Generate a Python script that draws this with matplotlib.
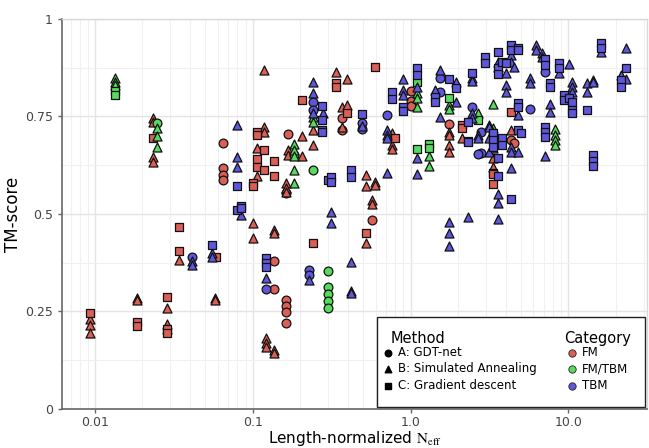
import matplotlib
matplotlib.use("Agg")
import matplotlib.pyplot as plt
from matplotlib.patches import Rectangle
from matplotlib.ticker import FixedLocator, LogLocator, NullFormatter, MultipleLocator
import numpy as np

plt.rcParams['font.family'] = ['DejaVu Sans']
plt.rcParams['mathtext.fontset'] = 'stix'

categories = ["FM", "FM/TBM", "TBM"]
methods = ["A: GDT-net", "B: Simulated Annealing", "C: Gradient descent"]
cat_colors = ["#db5f57", "#57db5f", "#5f57db"]
method_markers = ["o", "^", "s"]

# ---------------- FM ----------------
fm_a_x = [0.0646, 0.0646, 0.0646, 0.0646, 0.136, 0.136, 0.162, 0.162, 0.162, 0.162, 0.168, 0.162,
          1.0, 1.0, 1.0, 0.366, 0.366, 1.74, 4.35, 4.55, 0.566]
fm_a_y = [0.682, 0.618, 0.600, 0.587, 0.379, 0.308, 0.279, 0.264, 0.249, 0.221, 0.705, 0.554,
          0.815, 0.790, 0.777, 0.746, 0.715, 0.731, 0.690, 0.682, 0.485]

fm_b_x = [0.0093, 0.0093, 0.0093, 0.0184, 0.0184, 0.0233, 0.0233, 0.0233, 0.0233, 0.0286, 0.0286, 0.0286,
          0.034, 0.0575, 0.0575, 0.100, 0.100, 0.136, 0.136, 0.136, 0.136, 0.121, 0.121, 0.121,
          0.117, 0.117, 0.117, 0.106, 0.106, 0.162, 0.162, 0.162, 0.168, 0.168, 0.206, 0.206,
          0.240, 0.240, 0.335, 0.366, 0.366, 0.396, 0.396, 0.519, 0.519, 0.519, 0.592, 0.592,
          0.566, 0.566, 0.764, 0.764, 0.764, 1.74, 1.74, 1.74, 1.74, 2.13, 3.35, 3.35, 3.35, 4.35]
fm_b_y = [0.230, 0.215, 0.195, 0.285, 0.279, 0.745, 0.735, 0.646, 0.633, 0.259, 0.218, 0.205,
          0.382, 0.285, 0.279, 0.477, 0.438, 0.459, 0.451, 0.151, 0.144, 0.182, 0.169, 0.159,
          0.869, 0.723, 0.710, 0.669, 0.597, 0.579, 0.567, 0.556, 0.664, 0.651, 0.700, 0.649,
          0.715, 0.677, 0.864, 0.774, 0.723, 0.846, 0.779, 0.600, 0.572, 0.426, 0.582, 0.574,
          0.536, 0.526, 0.708, 0.677, 0.667, 0.710, 0.703, 0.677, 0.659, 0.695, 0.669, 0.644, 0.620, 0.715]

fm_c_x = [0.0093, 0.0184, 0.0184, 0.0286, 0.0286, 0.0286, 0.034, 0.034, 0.0233, 0.0583,
          0.106, 0.106, 0.106, 0.106, 0.100, 0.100, 0.117, 0.117, 0.136, 0.136, 0.206, 0.240,
          0.335, 0.335, 0.396, 0.592, 0.519, 0.792, 2.13, 2.13, 3.35, 3.35, 3.35, 4.35]
fm_c_y = [0.245, 0.223, 0.213, 0.287, 0.205, 0.195, 0.467, 0.405, 0.695, 0.390,
          0.710, 0.703, 0.641, 0.620, 0.579, 0.572, 0.664, 0.613, 0.636, 0.597, 0.792, 0.426,
          0.836, 0.826, 0.759, 0.877, 0.451, 0.695, 0.728, 0.720, 0.605, 0.603, 0.577, 0.762]

# ---------------- FM/TBM ----------------
fmtbm_a_x = [0.0247, 0.240, 0.298, 0.298, 0.298, 0.298, 0.298, 0.182]
fmtbm_a_y = [0.733, 0.613, 0.354, 0.313, 0.295, 0.277, 0.259, 0.651]

fmtbm_b_x = [0.0134, 0.0134, 0.0134, 0.0247, 0.0247, 0.0247, 0.182, 0.182, 0.182, 0.182, 0.182,
             0.240, 0.240, 1.1, 1.1, 1.1, 1.74, 1.74, 1.3, 1.3, 3.35, 3.35, 2.69,
             8.27, 8.27, 8.27, 8.27]
fmtbm_b_y = [0.849, 0.838, 0.830, 0.720, 0.700, 0.672, 0.679, 0.664, 0.649, 0.613, 0.579,
             0.749, 0.736, 0.810, 0.797, 0.774, 0.779, 0.769, 0.649, 0.623, 0.782, 0.720, 0.759,
             0.718, 0.703, 0.690, 0.677]

fmtbm_c_x = [0.0134, 0.0134, 1.1, 1.1, 1.74, 1.3, 1.3, 2.69]
fmtbm_c_y = [0.815, 0.805, 0.838, 0.667, 0.797, 0.679, 0.669, 0.741]

# ---------------- TBM ----------------
tbm_a_x = [0.0411, 0.121, 0.226, 0.226, 0.240, 0.240, 0.49, 0.49, 0.705, 1.53, 1.53,
           2.45, 2.81, 2.81, 5.7, 7.1, 2.69]
tbm_a_y = [0.390, 0.308, 0.356, 0.344, 0.787, 0.767, 0.733, 0.718, 0.754, 0.849, 0.813,
           0.774, 0.710, 0.656, 0.769, 0.864, 0.654]

tbm_b_x = [0.0411, 0.0411, 0.055, 0.055, 0.0792, 0.0792, 0.0792, 0.0839, 0.121, 0.226,
           0.240, 0.240, 0.240, 0.277, 0.312, 0.312, 0.417, 0.417, 0.417, 0.49,
           0.705, 0.705, 0.705, 0.705, 0.890, 0.890, 0.890, 1.1, 1.1, 1.1, 1.42, 1.53, 1.53,
           1.74, 1.74, 1.74, 1.95, 1.95, 2.3, 2.45, 2.45, 2.45, 2.45, 2.69, 2.69,
           3.12, 3.12, 3.12, 3.12, 3.6, 3.6, 3.6, 3.6, 3.6, 4.05, 4.05, 4.05,
           4.35, 4.35, 4.35, 4.35, 4.35, 4.55, 4.78, 4.78, 5.7, 5.7, 6.27, 6.27, 6.8, 6.8,
           7.1, 7.7, 7.7, 8.77, 10.15, 10.5, 10.5, 10.5, 13.2, 13.2, 14.4, 14.4, 16.0,
           21.6, 23.3, 23.3]
tbm_b_y = [0.380, 0.370, 0.400, 0.390, 0.728, 0.646, 0.620, 0.497, 0.336, 0.331,
           0.838, 0.810, 0.759, 0.759, 0.505, 0.477, 0.377, 0.303, 0.297, 0.725,
           0.715, 0.703, 0.695, 0.605, 0.846, 0.818, 0.805, 0.826, 0.644, 0.603, 0.818, 0.869, 0.749,
           0.479, 0.451, 0.418, 0.838, 0.787, 0.492, 0.849, 0.841, 0.759, 0.746, 0.703, 0.695,
           0.728, 0.723, 0.695, 0.659, 0.890, 0.877, 0.551, 0.528, 0.487, 0.862, 0.831, 0.813,
           0.908, 0.890, 0.672, 0.659, 0.618, 0.877, 0.754, 0.659, 0.849, 0.836, 0.933, 0.920, 0.913, 0.903,
           0.649, 0.782, 0.762, 0.862, 0.885, 0.838, 0.826, 0.813, 0.836, 0.813, 0.844, 0.838, 0.915,
           0.856, 0.926, 0.846]

tbm_c_x = [0.055, 0.0792, 0.0792, 0.0839, 0.0839, 0.121, 0.121, 0.121, 0.275, 0.275, 0.275, 0.275,
           0.298, 0.312, 0.312, 0.417, 0.417, 0.49, 0.764, 0.764, 0.890, 0.890, 1.1, 1.1,
           1.42, 1.42, 1.74, 1.95, 2.45, 2.3, 2.3, 2.3, 2.95, 2.95, 3.35, 3.35, 3.35,
           3.6, 3.6, 3.6, 3.6, 3.6, 3.82, 3.82, 3.82, 4.05, 4.35, 4.35, 4.35,
           4.78, 4.78, 4.78, 4.78, 4.78, 5.0, 7.1, 7.1, 7.1, 7.1, 7.1, 7.7, 7.7, 8.77, 8.77,
           9.44, 9.44, 10.15, 10.5, 10.5, 10.5, 13.2, 14.4, 14.4, 14.4, 16.0, 16.0, 21.6, 21.6, 23.3]
tbm_c_y = [0.421, 0.572, 0.510, 0.521, 0.515, 0.387, 0.374, 0.364, 0.777, 0.741, 0.715, 0.710,
           0.587, 0.595, 0.582, 0.613, 0.595, 0.756, 0.813, 0.795, 0.774, 0.764, 0.874, 0.856,
           0.800, 0.787, 0.846, 0.823, 0.862, 0.736, 0.687, 0.685, 0.903, 0.887, 0.708, 0.690, 0.672,
           0.915, 0.874, 0.859, 0.597, 0.644, 0.890, 0.695, 0.677, 0.887, 0.933, 0.921, 0.538,
           0.926, 0.920, 0.785, 0.774, 0.715, 0.708, 0.897, 0.882, 0.723, 0.710, 0.697, 0.836, 0.826, 0.887, 0.874,
           0.805, 0.792, 0.797, 0.787, 0.767, 0.759, 0.767, 0.651, 0.636, 0.623, 0.938, 0.926, 0.844, 0.826, 0.874]

groups = [
    (0, 0, fm_a_x, fm_a_y), (0, 1, fm_b_x, fm_b_y), (0, 2, fm_c_x, fm_c_y),
    (1, 0, fmtbm_a_x, fmtbm_a_y), (1, 1, fmtbm_b_x, fmtbm_b_y), (1, 2, fmtbm_c_x, fmtbm_c_y),
    (2, 0, tbm_a_x, tbm_a_y), (2, 1, tbm_b_x, tbm_b_y), (2, 2, tbm_c_x, tbm_c_y),
]

fig = plt.figure(figsize=(6.49, 4.48), dpi=100)
ax = fig.add_axes([0.0955, 0.0871, 0.9015, 0.8705])

marker_sizes = {"o": 40, "^": 42, "s": 40}
for ci, mi, xs, ys in groups:
    m = method_markers[mi]
    ax.scatter(xs, ys, s=marker_sizes[m], marker=m, c=cat_colors[ci],
               edgecolors="#111111", linewidths=0.9, zorder=3)

ax.set_xscale("log")
ax.set_xlim(0.00618, 31.5)
ax.set_ylim(0, 1)

ax.xaxis.set_major_locator(FixedLocator([0.01, 0.1, 1.0, 10.0]))
ax.set_xticklabels(["0.01", "0.1", "1.0", "10.0"])
ax.xaxis.set_minor_locator(LogLocator(base=10, subs=np.arange(2, 10)))
ax.xaxis.set_minor_formatter(NullFormatter())
ax.yaxis.set_major_locator(FixedLocator([0, 0.25, 0.5, 0.75, 1.0]))
ax.set_yticklabels(["0", "0.25", "0.5", "0.75", "1"])
ax.yaxis.set_minor_locator(MultipleLocator(0.125))

ax.grid(True, which="major", color="#e4e4e4", linewidth=1.0, zorder=0)
ax.grid(True, which="minor", color="#f0f0f0", linewidth=0.8, zorder=0)
ax.set_axisbelow(True)

for side in ["top", "right"]:
    ax.spines[side].set_color("#d9d9d9")
    ax.spines[side].set_linewidth(1.0)
for side in ["left", "bottom"]:
    ax.spines[side].set_color("#666666")
    ax.spines[side].set_linewidth(1.2)

ax.tick_params(axis="both", which="major", labelsize=9, labelcolor="#444444",
               color="#666666", length=3, width=1)
ax.tick_params(axis="x", which="major", pad=2)
ax.tick_params(axis="both", which="minor", length=0)

ax.set_ylabel("TM-score", fontsize=12, labelpad=2)
ax.set_xlabel(r"Length-normalized $\mathrm{N_{eff}}$", fontsize=11, labelpad=0)

# ---- custom legend ----
ax.add_patch(Rectangle((0.538, 0.005), 0.459, 0.231, transform=ax.transAxes,
                       facecolor="white", edgecolor="#222222", linewidth=1.0, zorder=5))
ax.text(0.561, 0.169, "Method", transform=ax.transAxes, fontsize=10.5,
        va="baseline", ha="left", zorder=6)
ax.text(0.858, 0.169, "Category", transform=ax.transAxes, fontsize=10.5,
        va="baseline", ha="left", zorder=6)
row_y = [0.144, 0.103, 0.059]
for i in range(3):
    ax.scatter([0.557], [row_y[i]], s=22, marker=method_markers[i], c="black",
               transform=ax.transAxes, zorder=6, clip_on=False)
    ax.text(0.574, row_y[i], methods[i], transform=ax.transAxes, fontsize=8.5,
            va="center", ha="left", zorder=6)
    ax.scatter([0.872], [row_y[i]], s=28, marker="o", c=cat_colors[i],
               edgecolors="#222222", linewidths=0.6,
               transform=ax.transAxes, zorder=6, clip_on=False)
    ax.text(0.889, row_y[i], categories[i], transform=ax.transAxes, fontsize=8.5,
            va="center", ha="left", zorder=6)

fig.savefig("out.png", dpi=100)
